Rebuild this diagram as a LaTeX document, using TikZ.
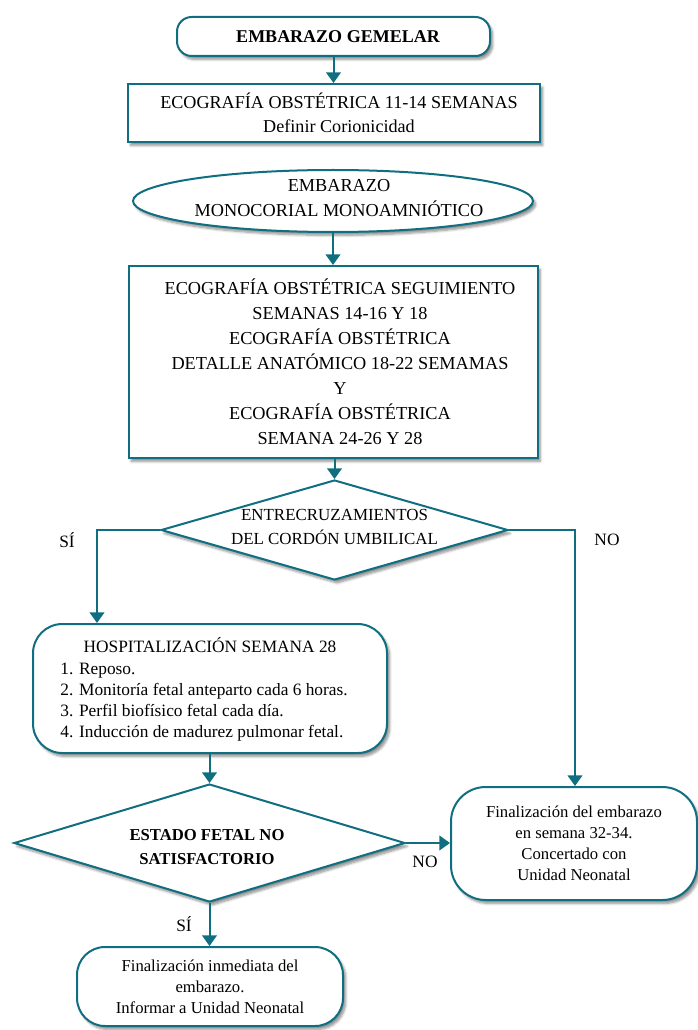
\documentclass[tikz,border=0pt]{standalone}
\usepackage{fontspec}
\setmainfont{Liberation Serif}
\usetikzlibrary{shapes.geometric,arrows.meta,shadows.blur,calc}
\definecolor{teal1}{HTML}{0F6E80}
\begin{document}
\begin{tikzpicture}[x=0.75pt,y=-0.75pt,
 box/.style={draw=teal1, line width=1.5pt, fill=white,
   blur shadow={shadow xshift=2pt,shadow yshift=-2.5pt,shadow blur steps=6,shadow opacity=45},
   align=center, inner sep=0pt},
 arr/.style={draw=teal1, line width=1.5pt, -{Triangle[width=11pt,length=8pt]}},
 txt/.style={font=\fontsize{13.7}{18.75}\selectfont, align=center},
 sml/.style={font=\fontsize{12.5}{15.75}\selectfont, align=center},
 lbl/.style={font=\fontsize{13}{16}\selectfont}
]
\useasboundingbox (0,0) rectangle (697,1030);

% nodes
\node[box, rounded corners=11pt, minimum width=234.75pt, minimum height=29.25pt] (n1) at (333.5,36.5) {};
\node[font=\fontsize{13.5}{16}\selectfont\bfseries] (n1t) at (338,36.5) {EMBARAZO GEMELAR};
\node[box, minimum width=309pt, minimum height=43.5pt] (n2) at (334,113) {};
\node[font=\fontsize{13.6}{18}\selectfont, align=center] (n2t) at (339,113)
  {ECOGRAFÍA OBSTÉTRICA 11-14 SEMANAS\\Definir Corionicidad};
\node[box, ellipse, minimum width=300pt, minimum height=46.5pt] (n3) at (333,201) {};
\node[txt] (n3t) at (339,198) {EMBARAZO\\MONOCORIAL MONOAMNIÓTICO};
\node[box, minimum width=306.75pt, minimum height=144pt] (n4) at (333,362) {};
\node[txt] (n4t) at (340,362)
  {ECOGRAFÍA OBSTÉTRICA SEGUIMIENTO\\SEMANAS 14-16 Y 18\\ECOGRAFÍA OBSTÉTRICA\\DETALLE ANATÓMICO 18-22 SEMAMAS\\Y\\ECOGRAFÍA OBSTÉTRICA\\SEMANA 24-26 Y 28};
\node[box, diamond, minimum width=260.25pt, minimum height=75pt] (d1) at (334.5,530) {};
\node[font=\fontsize{12.7}{17.5}\selectfont, align=center] (d1t) at (334.5,527) {ENTRECRUZAMIENTOS\\DEL CORDÓN UMBILICAL};
\node[box, rounded corners=22pt, minimum width=265.5pt, minimum height=96.75pt] (n6) at (210,688.5) {};
\node[font=\fontsize{13}{15.9}\selectfont] (n6t) at (204,691)
  {\begin{tabular}{@{}l@{}}\multicolumn{1}{@{}c@{}}{\hspace{9pt}HOSPITALIZACIÓN SEMANA 28}\\
   1. Reposo.\\2. Monitoría fetal anteparto cada 6 horas.\\3. Perfil biofísico fetal cada día.\\4. Inducción de madurez pulmonar fetal.\end{tabular}};
\node[box, diamond, minimum width=293.25pt, minimum height=88.5pt] (d2) at (209.5,843) {};
\node[font=\fontsize{12.5}{18}\selectfont\bfseries, align=center] (d2t) at (207,847) {ESTADO FETAL NO\\SATISFACTORIO};
\node[box, rounded corners=26pt, minimum width=184.5pt, minimum height=84.75pt, sml]
  (n8) at (574,843.5) {Finalización del embarazo\\en semana 32-34.\\Concertado con\\Unidad Neonatal};
\node[box, rounded corners=21pt, minimum width=199.5pt, minimum height=59.25pt, sml]
  (n9) at (210,986.5) {Finalización inmediata del\\embarazo.\\Informar a Unidad Neonatal};

% labels
\node[lbl] (l1) at (67,540) {SÍ};
\node[lbl] (l2) at (607,540) {NO};
\node[lbl] (l3) at (425,862) {NO};
\node[lbl] (l4) at (184,924) {SÍ};

% connectors
\coordinate (c1) at (97,0);
\coordinate (c2) at (575,0);
\draw[arr] (n1.south) -- (n1.south |- n2.north);
\draw[arr] (n3.south) -- (n3.south |- n4.north);
\draw[arr] (d1.north |- n4.south) -- (d1.north);
\draw[arr] (d1.west) -| (c1 |- n6.north);
\draw[arr] (d1.east) -| (c2 |- n8.north);
\draw[arr] (d2.north |- n6.south) -- (d2.north);
\draw[arr] (d2.east) -- (d2.east -| n8.west);
\draw[arr] (d2.south) -- (d2.south |- n9.north);
\end{tikzpicture}
\end{document}
